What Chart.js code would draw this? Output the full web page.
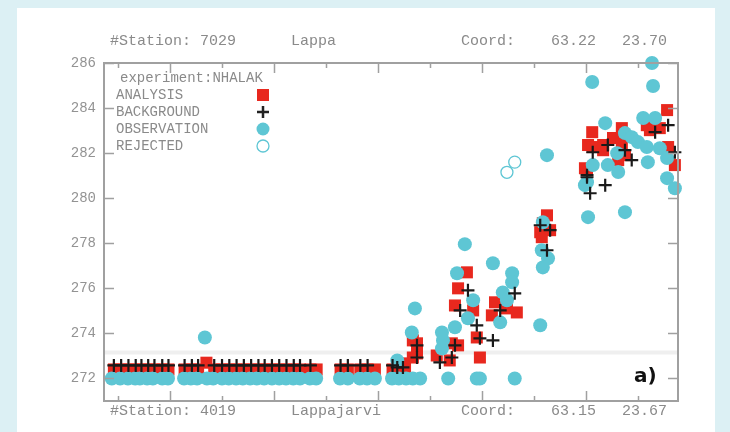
<!DOCTYPE html>
<html>
<head>
<meta charset="utf-8">
<script src="https://cdn.jsdelivr.net/npm/chart.js@4"></script>
<style>
  html, body { margin: 0; padding: 0; background: #dcf0f4; }
  #wrap { width: 730px; height: 432px; }
</style>
</head>
<body>
<div id="wrap"><canvas id="myChart" width="730" height="432"></canvas></div>
<script>
// tick values
const xTicks = [0, 1, 2, 3, 4, 5, 6, 7, 8, 9, 10];
const yTicks = [272, 274, 276, 278, 280, 282, 284, 286];
const bandLevel = 273.15;

// OBSERVATION
const obsX = [-0.12, 0.04, 0.19, 0.33, 0.42, 0.56, 0.67, 0.85, 0.96, 1.27, 1.40, 1.52, 1.71, 1.83,
  2.00, 2.13, 2.27, 2.40, 2.54, 2.67, 2.81, 2.96, 3.10, 3.23, 3.37, 3.50, 3.69, 3.81, 4.27, 4.42,
  4.65, 4.79, 4.94, 5.27, 5.40, 5.54, 5.67, 5.81, 6.35, 6.90, 6.96, 7.63,
  1.67, 5.37, 5.65, 5.71, 6.23, 6.25, 6.23, 6.48, 6.52, 6.67, 6.73, 6.83, 7.21, 7.35, 7.40, 7.48,
  7.58, 7.58, 8.12, 8.17, 8.15, 8.27, 8.17, 8.25, 8.98, 9.04, 9.02, 9.13, 9.12, 9.37, 9.42, 9.60,
  9.62, 9.75, 9.88, 10.00, 10.17, 9.75, 10.10, 10.33, 10.27, 10.29, 10.42, 10.56, 10.56, 10.71, 10.19];
const obsY = [272.0, 272.0, 272.0, 272.0, 272.0, 272.0, 272.0, 272.0, 272.0, 272.0, 272.0, 272.0, 272.0, 272.0,
  272.0, 272.0, 272.0, 272.0, 272.0, 272.0, 272.0, 272.0, 272.0, 272.0, 272.0, 272.0, 272.0, 272.0, 272.0, 272.0,
  272.0, 272.0, 272.0, 272.0, 272.0, 272.0, 272.0, 272.0, 272.0, 272.0, 272.0, 272.0,
  273.82, 272.8, 274.04, 275.11, 273.33, 273.69, 274.04, 274.27, 276.67, 277.96, 274.67, 275.47, 277.11, 274.49, 275.82, 275.47,
  276.67, 276.27, 274.36, 278.93, 277.69, 277.33, 276.93, 281.91, 280.58, 279.16, 280.71, 281.47, 285.16, 283.33, 281.47, 282.0,
  281.16, 282.89, 282.71, 282.49, 282.27, 279.38, 283.56, 283.56, 286.0, 284.98, 282.22, 281.78, 280.89, 280.44, 281.6];

// ANALYSIS
const anaX = [-0.08, 0.06, 0.20, 0.34, 0.45, 0.58, 0.70, 0.85, 0.97, 1.28, 1.42, 1.54, 1.70, 1.85,
  2.00, 2.14, 2.28, 2.42, 2.56, 2.70, 2.82, 2.96, 3.10, 3.24, 3.38, 3.50, 3.70, 3.82, 4.28, 4.42,
  4.66, 4.80, 4.94, 5.28, 5.40,
  5.48, 5.52, 5.67, 5.75, 5.67, 5.75, 6.13, 6.38, 6.42, 6.54, 6.48, 6.54, 6.71, 6.83, 6.90, 6.96,
  7.25, 7.19, 7.48, 7.67, 8.25, 8.31, 8.12, 8.17, 8.15, 8.98, 9.04, 9.02, 9.12, 9.13, 9.33, 9.52,
  9.62, 9.69, 10.17, 10.42, 10.56, 10.58, 10.71, 9.33, 9.69, 9.75, 10.23];
const anaY = [272.4, 272.4, 272.4, 272.4, 272.4, 272.4, 272.4, 272.4, 272.4, 272.4, 272.4, 272.4, 272.7, 272.4,
  272.4, 272.4, 272.4, 272.4, 272.4, 272.4, 272.4, 272.4, 272.4, 272.4, 272.4, 272.4, 272.4, 272.4, 272.4, 272.4,
  272.4, 272.4, 272.4, 272.4, 272.4,
  272.67, 272.49, 272.93, 273.11, 273.69, 273.56, 273.02, 272.8, 273.56, 273.47, 275.24, 276.0, 276.71, 275.02, 273.82, 272.93,
  275.38, 274.8, 275.11, 274.93, 279.24, 278.58, 278.49, 278.89, 278.27, 281.33, 282.36, 281.24, 282.93, 282.27, 282.13, 282.67,
  281.69, 283.11, 283.24, 283.11, 283.91, 282.27, 281.47, 282.36, 282.44, 281.91, 283.02];

// BACKGROUND
const bgX = [-0.08, 0.06, 0.20, 0.34, 0.45, 0.58, 0.70, 0.85, 0.97, 1.28, 1.42, 1.54, 1.85,
  2.00, 2.14, 2.28, 2.42, 2.56, 2.70, 2.82, 2.96, 3.10, 3.24, 3.38, 3.50, 3.70, 4.28, 4.42,
  4.66, 4.80, 5.28,
  5.37, 5.48, 5.75, 5.75, 6.19, 6.42, 6.48, 6.58, 6.73, 6.90, 6.96, 7.21, 7.35, 7.63,
  8.12, 8.31, 8.25, 9.02, 9.08, 9.37, 9.13, 9.42, 9.75, 9.88, 10.33, 10.58, 10.71, 9.02];
const bgY = [272.58, 272.58, 272.58, 272.58, 272.58, 272.58, 272.58, 272.58, 272.58, 272.58, 272.58, 272.58, 272.58,
  272.58, 272.58, 272.58, 272.58, 272.58, 272.58, 272.58, 272.58, 272.58, 272.58, 272.58, 272.58, 272.58, 272.58, 272.58,
  272.58, 272.58, 272.58,
  272.49, 272.49, 272.93, 273.47, 272.71, 272.93, 273.47, 275.02, 275.91, 274.36, 273.78, 273.69, 275.02, 275.78,
  278.8, 278.58, 277.69, 280.93, 280.22, 280.58, 282.04, 282.36, 282.13, 281.69, 282.93, 283.24, 282.04, 281.02];

// REJECTED
const rejX = [7.48, 7.63];
const rejY = [281.15, 281.6];

const RED = '#e8281e';
const CYAN = '#5ec6d4';
const GREY = '#939393';

const pts = (xs, ys) => xs.map((x, i) => ({ x: x, y: ys[i] }));

const framePlugin = {
    id: 'frame',
    beforeDraw(chart) {
        const c = chart.ctx;
        c.save();
        c.fillStyle = '#dcf0f4';
        c.fillRect(0, 0, chart.width, chart.height);
        c.fillStyle = '#ffffff';
        c.fillRect(17, 8, 698, chart.height);
        c.restore();
    },
    afterDraw(chart) {
        const c = chart.ctx;
        const xs = chart.scales.x, ys = chart.scales.y;
        const a = chart.chartArea;
        c.save();
        c.strokeStyle = '#a0a0a0';
        c.lineWidth = 2;
        c.strokeRect(a.left, a.top, a.right - a.left, a.bottom - a.top);
        c.lineWidth = 1.5;
        xTicks.forEach((v, i) => {
            const px = Math.round(xs.getPixelForValue(v)) + 0.5;
            const len = (i % 2 === 1) ? 10 : 5;
            c.beginPath();
            c.moveTo(px, a.bottom); c.lineTo(px, a.bottom - len);
            c.moveTo(px, a.top); c.lineTo(px, a.top + len);
            c.stroke();
        });
        c.font = '14px "Liberation Mono", monospace';
        c.fillStyle = GREY;
        c.textAlign = 'right';
        c.textBaseline = 'middle';
        yTicks.forEach(v => {
            const py = Math.round(ys.getPixelForValue(v)) + 0.5;
            c.beginPath();
            c.moveTo(a.left, py); c.lineTo(a.left + 10, py);
            c.moveTo(a.right, py); c.lineTo(a.right - 10, py);
            c.stroke();
            c.fillText(String(v), 96, py);
        });

        // header / footer
        c.font = '15px "Liberation Mono", monospace';
        c.fillStyle = '#8a8a8a';
        c.textAlign = 'left';
        c.fillText('#Station: 7029', 110, 41);
        c.fillText('Lappa', 291, 41);
        c.fillText('Coord:', 461, 41);
        c.fillText('63.22', 551, 41);
        c.fillText('23.70', 622, 41);
        c.fillText('#Station: 4019', 110, 411);
        c.fillText('Lappajarvi', 291, 411);
        c.fillText('Coord:', 461, 411);
        c.fillText('63.15', 551, 411);
        c.fillText('23.67', 622, 411);

        // legend
        c.font = '14px "Liberation Mono", monospace';
        c.fillText('experiment:NHALAK', 120, 78);
        const rows = ['ANALYSIS', 'BACKGROUND', 'OBSERVATION', 'REJECTED'];
        rows.forEach((t, i) => c.fillText(t, 116, 95 + i * 17));
        const mx = 263;
        c.fillStyle = RED;
        c.fillRect(mx - 6, 95 - 6, 12, 12);
        c.strokeStyle = '#222';
        c.lineWidth = 2.5;
        c.beginPath();
        c.moveTo(mx - 6, 112); c.lineTo(mx + 6, 112);
        c.moveTo(mx, 106); c.lineTo(mx, 118);
        c.stroke();
        c.fillStyle = CYAN;
        c.beginPath(); c.arc(mx, 129, 6.5, 0, Math.PI * 2); c.fill();
        c.strokeStyle = CYAN;
        c.lineWidth = 1.3;
        c.beginPath(); c.arc(mx, 146, 6, 0, Math.PI * 2); c.stroke();

        // panel label
        c.font = 'bold 20px "DejaVu Sans", sans-serif';
        c.fillStyle = '#111';
        c.textAlign = 'left';
        c.fillText('a)', 634, 377);
        c.restore();
    }
};

const ctx = document.getElementById('myChart').getContext('2d');
const myChart = new Chart(ctx, {
    type: 'scatter',
    data: {
        datasets: [{
            label: 'band',
            type: 'line',
            data: [{ x: -0.27, y: bandLevel }, { x: 10.77, y: bandLevel }],
            borderColor: '#efefef',
            borderWidth: 4,
            pointRadius: 0,
            order: 9
        }, {
            label: 'ANALYSIS',
            data: pts(anaX, anaY),
            pointStyle: 'rect',
            pointRadius: 8.5,
            backgroundColor: RED,
            borderColor: RED,
            borderWidth: 0,
            clip: false,
            order: 3
        }, {
            label: 'OBSERVATION',
            data: pts(obsX, obsY),
            pointStyle: 'circle',
            pointRadius: 7,
            backgroundColor: CYAN,
            borderColor: CYAN,
            borderWidth: 0,
            clip: false,
            order: 2
        }, {
            label: 'BACKGROUND',
            data: pts(bgX, bgY),
            pointStyle: 'cross',
            pointRadius: 6.5,
            borderColor: '#1a1a1a',
            borderWidth: 2.2,
            clip: false,
            order: 1
        }, {
            label: 'REJECTED',
            data: pts(rejX, rejY),
            pointStyle: 'circle',
            pointRadius: 6,
            backgroundColor: 'transparent',
            borderColor: CYAN,
            borderWidth: 1.3,
            clip: false,
            order: 0
        }]
    },
    options: {
        responsive: false,
        animation: false,
        maintainAspectRatio: false,
        layout: { padding: { left: 104, top: 63, right: 52, bottom: 31 } },
        scales: {
            x: { type: 'linear', min: -0.27, max: 10.77, display: false },
            y: { type: 'linear', min: 271, max: 286, display: false }
        },
        plugins: {
            legend: { display: false },
            tooltip: { enabled: false }
        }
    },
    plugins: [framePlugin]
});
</script>
</body>
</html>
